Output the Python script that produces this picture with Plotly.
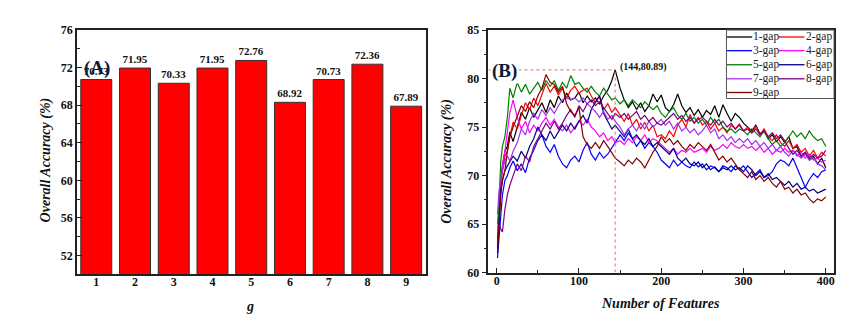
import plotly.graph_objects as go

# ---------------- Panel A data ----------------
g_values = [1, 2, 3, 4, 5, 6, 7, 8, 9]
bar_heights = [70.73, 71.95, 70.33, 71.95, 72.76, 68.30, 70.73, 72.36, 67.89]
bar_labels = ["70.73", "71.95", "70.33", "71.95", "72.76", "68.92", "70.73", "72.36", "67.89"]

# ---------------- Panel B data ----------------
n_features = ([1, 3, 5, 7, 10, 13, 16]
              + [20, 25, 30, 35, 40, 45, 50, 55, 60, 65]
              + [70, 75, 80, 85, 90, 95, 100, 105, 110, 115]
              + [120, 125, 130, 135, 140, 144]
              + [150, 155, 160, 165, 170, 175, 180, 185, 190, 195]
              + [200, 205, 210, 215, 220, 225, 230, 235, 240, 245]
              + [250, 255, 260, 265, 270, 275, 280, 285, 290, 295]
              + [300, 305, 310, 315, 320, 325, 330, 335, 340, 345]
              + [350, 355, 360, 365, 370, 375, 380, 385, 390, 395]
              + [400])

gap1 = [62.5, 66.0, 69.5, 71.0, 72.5, 73.0, 74.5,
        73.5, 75.0, 76.5, 75.8, 77.0, 76.0, 76.8, 77.5, 76.5, 77.8,
        77.0, 78.2, 77.5, 78.5, 77.8, 78.0, 78.6, 77.5, 78.2, 77.6,
        78.0, 77.4, 78.2, 78.8, 79.8, 80.89,
        79.0, 77.8, 77.0, 77.6, 76.8, 77.5, 76.6, 77.2, 78.4, 77.6,
        78.3, 77.0, 76.6, 77.3, 78.4, 77.2, 76.5, 77.0, 76.2, 76.8,
        76.0, 76.7, 76.3, 77.2, 76.0, 77.3, 76.4, 75.6, 76.4, 76.0,
        75.4, 75.0, 74.6, 75.2, 74.3, 74.6, 73.8, 74.2, 73.5, 74.0,
        73.4, 74.0, 72.8, 73.0, 72.0, 72.4, 71.6, 72.0, 71.2, 71.8,
        70.8]
gap2 = [63.0, 66.5, 69.0, 70.5, 72.0, 72.5, 74.0,
        75.5, 74.8, 76.2, 77.5, 76.8, 78.0, 77.2, 78.4, 79.5, 78.6,
        79.2, 78.3, 79.0, 78.0, 78.8, 79.2, 78.5, 78.8, 79.0, 78.2,
        77.5, 78.2, 76.8, 77.4, 76.5, 77.0,
        76.2, 75.6, 76.4, 75.2, 75.8, 74.8, 75.5, 74.6, 75.2, 74.0,
        74.2, 73.8, 74.6, 74.0, 75.2, 75.8, 75.0, 76.3, 75.4, 76.0,
        75.2, 75.6, 74.8, 75.4, 74.6, 75.0, 74.4, 75.2, 74.8, 75.3,
        74.6, 75.0, 74.4, 75.1, 74.2, 74.8, 74.0, 73.6, 74.2, 73.4,
        73.0, 73.6, 72.8, 73.2, 72.4, 72.8, 72.0, 72.6, 71.8, 72.4,
        72.0]
gap3 = [61.5, 64.0, 66.5, 68.0, 69.5, 70.0, 70.8,
        71.5, 70.5, 71.2, 70.3, 71.8, 72.6, 73.6, 74.2, 73.0, 72.4,
        73.2, 72.0, 71.2, 70.8, 71.6, 72.0, 71.4, 72.6, 73.4, 72.2,
        71.6, 72.4, 71.8, 72.2, 72.8, 73.4,
        74.2, 73.6, 74.4, 73.8, 73.0, 73.6, 72.8, 73.4, 73.0, 72.4,
        71.6, 71.2, 70.8, 71.6, 71.0, 71.4, 71.0, 70.8, 71.4, 70.9,
        71.2, 70.6, 71.0, 70.8, 70.4, 71.0, 70.8, 70.4, 71.0, 70.6,
        71.0, 70.4, 69.8, 70.2, 70.6, 69.8, 70.0, 70.4, 71.2, 71.6,
        71.4, 71.0, 71.8, 70.8, 69.8, 68.8, 69.6, 70.2, 69.8, 70.4,
        70.6]
gap4 = [65.0, 67.0, 69.5, 71.0, 72.5, 74.5, 76.5,
        77.8, 76.0, 74.8, 75.6, 74.4, 75.2, 74.6, 75.4, 76.0, 75.2,
        75.8, 75.0, 74.6, 75.2, 74.4, 75.0, 75.6, 75.2, 75.8, 75.0,
        74.6, 74.0, 74.4, 73.6, 74.0, 73.4,
        73.6, 73.2, 73.8, 73.4, 74.0, 73.6, 74.2, 73.4, 73.8, 73.6,
        73.2, 72.8, 72.4, 72.8, 72.2, 72.6, 72.4, 72.8, 72.4, 72.6,
        72.8, 72.4, 73.0, 72.6, 72.8, 73.2, 72.8, 73.4, 73.0, 72.8,
        73.2, 72.8, 73.0, 72.6, 73.0, 72.4, 72.8, 72.2, 72.6, 72.4,
        72.8, 72.4, 72.6, 72.0, 72.4, 71.8, 72.2, 71.6, 71.8, 71.4,
        71.6]
gap5 = [63.5, 68.0, 71.5, 73.0, 74.0, 76.0, 79.0,
        78.0, 79.6, 78.6, 79.4, 78.4, 79.0, 79.6, 78.8, 79.8, 79.2,
        79.8, 78.8, 79.6, 79.0, 80.3, 79.4, 79.6, 79.0, 78.6, 79.2,
        78.6, 78.2, 79.0, 78.4, 77.8, 78.0,
        77.4, 77.8, 77.2, 77.8, 77.4, 77.0, 77.6, 77.2, 76.8, 77.2,
        76.4, 76.0, 76.6, 77.0, 76.2, 75.8, 76.4, 75.6, 76.0, 75.4,
        75.8, 75.2, 76.0, 75.4, 75.8, 75.0, 74.6, 74.8, 74.4, 74.8,
        74.6, 74.2, 74.8, 74.4, 74.0, 74.6, 73.8, 73.2, 73.6, 73.0,
        73.4, 74.0, 74.6, 74.0, 74.4, 73.8, 74.6, 74.0, 73.6, 73.8,
        73.0]
gap6 = [62.0, 65.5, 68.5, 69.5, 70.5, 71.0, 71.5,
        72.0, 71.5, 72.5, 71.8, 73.0, 73.8, 75.0, 74.2, 73.6, 74.6,
        73.8, 74.5, 75.2, 74.6, 75.4, 74.8, 75.6, 76.2, 75.4, 76.8,
        77.6, 78.2, 76.4, 75.6, 74.8, 75.2,
        74.6, 74.0, 74.8, 73.8, 74.2, 73.6, 73.2, 73.8, 73.0, 73.4,
        73.0, 72.6, 72.2, 72.8, 71.8, 71.4, 71.8, 71.2, 71.0, 71.4,
        70.8, 71.2, 70.6, 70.9, 70.4, 70.8, 70.6, 71.0, 70.6, 70.8,
        70.4, 71.0, 70.6, 70.0, 70.4, 69.8, 70.2, 69.6, 69.8, 69.4,
        69.0, 69.4, 68.8, 69.2, 68.6, 68.8, 68.4, 68.6, 68.2, 68.4,
        68.6]
gap7 = [66.0, 68.5, 69.5, 70.5, 71.5, 72.0, 71.5,
        72.5, 73.4, 74.8, 74.2, 75.6, 76.4, 75.8, 76.8, 76.2, 77.0,
        76.4, 77.2, 77.8, 78.0, 77.8, 78.0, 77.6, 78.0, 77.4, 77.0,
        76.6, 76.0, 76.6, 75.8, 76.2, 75.6,
        75.0, 74.2, 74.8, 75.2, 74.6, 75.4, 74.8, 75.6, 75.0, 75.4,
        75.8, 75.2, 75.6, 74.8, 75.4, 74.6, 75.0, 74.4, 74.8, 74.2,
        74.6, 75.2, 74.4, 74.8, 73.8, 74.2, 73.6, 74.0, 73.4, 73.8,
        73.4, 73.8, 73.2, 73.6, 73.0, 73.4, 72.8, 73.2, 72.6, 73.0,
        72.4, 72.0, 72.6, 72.2, 71.8, 72.2, 71.6, 71.8, 71.2, 71.0,
        70.6]
gap8 = [63.0, 65.0, 64.5, 64.2, 66.5, 68.0, 69.0,
        70.0, 71.2, 70.5, 72.0, 71.4, 73.0, 73.8, 74.6, 75.4, 74.8,
        75.6, 74.8, 75.4, 76.2, 76.8, 76.0, 77.2, 76.6, 77.4, 77.8,
        77.2, 77.6, 77.0, 76.4, 75.8, 76.4,
        76.0, 76.4, 75.8, 76.2, 76.6, 75.8, 76.2, 75.6, 76.0, 75.4,
        75.2, 75.6, 76.0, 76.4, 75.8, 76.2, 75.6, 76.0, 75.4, 75.8,
        76.0, 75.6, 75.2, 75.8, 75.2, 75.6, 75.0, 75.4, 74.8, 75.2,
        74.6, 74.8, 74.4, 74.8, 74.2, 74.6, 74.0, 74.4, 73.8, 74.2,
        73.6, 72.8, 72.2, 72.6, 72.0, 72.4, 71.8, 72.2, 71.8, 72.0,
        72.6]
gap9 = [62.0, 65.0, 68.0, 69.5, 70.5, 72.5, 74.0,
        75.0, 76.2, 77.2, 76.6, 77.6, 77.0, 78.2, 79.0, 80.4, 79.6,
        79.4, 78.6, 79.2, 77.4, 76.6, 76.2, 77.0, 74.0, 73.2, 72.8,
        73.4, 72.8, 73.6, 73.0, 72.4, 71.8,
        71.4, 71.0, 71.6, 71.2, 71.8, 71.4, 70.8, 71.6, 72.4, 73.0,
        74.0, 73.4, 73.8, 73.2, 73.6, 73.0, 72.6, 73.2, 72.8, 73.4,
        73.0, 72.6, 73.2, 72.4, 71.6, 72.0, 71.4, 71.8, 71.2, 70.6,
        70.2, 69.8, 70.4, 69.6, 70.0, 69.4, 69.8, 69.2, 68.8, 69.4,
        68.6, 68.8, 68.2, 68.6, 68.0, 68.2, 67.6, 67.2, 67.6, 67.4,
        67.8]

series_names = ["1-gap", "2-gap", "3-gap", "4-gap", "5-gap", "6-gap", "7-gap", "8-gap", "9-gap"]
series_values = [gap1, gap2, gap3, gap4, gap5, gap6, gap7, gap8, gap9]
series_colors = ["#000000", "#ff0000", "#0000ff", "#ff00ff", "#008000",
                 "#000080", "#a030f0", "#800080", "#800000"]

peak_x = 144
peak_y = 80.89

SERIF = "Liberation Serif"
AXCOL = "#222222"
W, H = 849, 322

fig = go.Figure()

fig.add_trace(go.Bar(
    x=g_values, y=bar_heights, text=bar_labels, textposition="outside",
    textfont=dict(family=SERIF, size=11, color="#111111", weight="bold"),
    marker=dict(color="#ff0000", line=dict(color="#333333", width=1)),
    width=0.8, cliponaxis=False, showlegend=False,
    xaxis="x", yaxis="y"))

for name, vals, col in zip(series_names, series_values, series_colors):
    fig.add_trace(go.Scatter(
        x=n_features, y=vals, mode="lines", name=name,
        line=dict(color=col, width=1.2), showlegend=False,
        xaxis="x2", yaxis="y2"))

tickfont = dict(family=SERIF, size=12, color="#111111", weight="bold")

fig.update_layout(
    width=W, height=H,
    margin=dict(l=0, r=0, t=0, b=0),
    paper_bgcolor="white", plot_bgcolor="white",
    showlegend=False,
    xaxis=dict(domain=[69 / W, 418 / W], range=[0.5, 9.5], tickvals=g_values,
               ticks="", ticklabelstandoff=-4, showgrid=False, zeroline=False, showline=True,
               linecolor=AXCOL, linewidth=1.5, mirror=True, tickfont=tickfont),
    yaxis=dict(domain=[1 - 271 / H, 1 - 15.7 / H], range=[50, 76], tickvals=[52, 56, 60, 64, 68, 72, 76],
               ticks="inside", ticklen=5, tickcolor=AXCOL,
               minor=dict(tickvals=[50, 54, 58, 62, 66, 70, 74], ticks="inside", ticklen=3, tickcolor=AXCOL),
               showgrid=False, zeroline=False, showline=True,
               linecolor=AXCOL, linewidth=1.5, mirror=True, tickfont=tickfont),
    xaxis2=dict(domain=[481 / W, 827 / W], range=[-10, 410], tickvals=[0, 100, 200, 300, 400],
                ticks="inside", ticklen=5, tickcolor=AXCOL, ticklabelstandoff=-4,
                minor=dict(tickvals=[50, 150, 250, 350], ticks="inside", ticklen=3, tickcolor=AXCOL),
                showgrid=False, zeroline=False, showline=True,
                linecolor=AXCOL, linewidth=1.5, mirror=True, tickfont=tickfont, anchor="y2"),
    yaxis2=dict(domain=[1 - 269.3 / H, 1 - 15.7 / H], range=[60, 85], tickvals=[60, 65, 70, 75, 80, 85],
                ticks="outside", ticklen=5, tickcolor=AXCOL,
                minor=dict(tickvals=[62.5, 67.5, 72.5, 77.5, 82.5], ticks="outside", ticklen=3, tickcolor=AXCOL),
                showgrid=False, zeroline=False, showline=True,
                linecolor=AXCOL, linewidth=1.5, mirror=True, tickfont=tickfont, anchor="x2"),
)

# reference lines at the peak
shapes = [
    dict(type="line", xref="x2", yref="y2", x0=-10, x1=peak_x, y0=peak_y, y1=peak_y,
         line=dict(color="#e06a6a", width=1, dash="dot")),
    dict(type="line", xref="x2", yref="y2", x0=peak_x, x1=peak_x, y0=60, y1=peak_y,
         line=dict(color="#e06a6a", width=1, dash="dot")),
]

ann = []
# legend box drawn as a two-column key
leg_left, leg_right, leg_top, leg_bottom = 719.3, 827, 15.7, 87.3
shapes.append(dict(type="rect", xref="paper", yref="paper", layer="above",
                   x0=leg_left / W, x1=leg_right / W, y0=1 - leg_bottom / H, y1=1 - leg_top / H,
                   fillcolor="white", line=dict(color="#555555", width=1)))
col_line_x = [(719.8, 745.0), (771.5, 797.5)]
row_y = [23.0, 37.3, 52.0, 66.7, 81.0]
for i, (name, col) in enumerate(zip(series_names, series_colors)):
    c, r = i % 2, i // 2
    x0, x1 = col_line_x[c]
    yy = 1 - row_y[r] / H
    shapes.append(dict(type="line", xref="paper", yref="paper", layer="above",
                       x0=x0 / W, x1=x1 / W, y0=yy, y1=yy, line=dict(color=col, width=1.3)))
    ann.append(dict(text=name, x=x1 / W, y=yy, xref="paper", yref="paper", xanchor="left",
                    yanchor="middle", showarrow=False, borderpad=0,
                    font=dict(family=SERIF, size=11.5, color="#222222")))

ann.append(dict(text="(%d,%.2f)" % (peak_x, peak_y), x=179, y=81.2, xref="x2", yref="y2",
                xanchor="center", yanchor="middle", showarrow=False,
                font=dict(family=SERIF, size=10, color="#111111", weight="bold")))
ann.append(dict(text="(A)", x=1.02, y=72.0, xref="x", yref="y", showarrow=False,
                xanchor="center", yanchor="middle",
                font=dict(family=SERIF, size=19, color="#0b1a3a", weight="bold")))
ann.append(dict(text="(B)", x=9, y=80.8, xref="x2", yref="y2", showarrow=False, bgcolor="white",
                xanchor="center", yanchor="middle",
                font=dict(family=SERIF, size=19, color="#0b1a3a", weight="bold")))
title_font = dict(family=SERIF, size=14, color="#111111", weight="bold", style="italic")
ann.append(dict(text="Overall Accuracy (%)", x=38 / W, y=1 - 151 / H, xref="paper", yref="paper",
                xanchor="center", yanchor="middle", textangle=-90, showarrow=False, font=title_font))
ann.append(dict(text="g", x=242 / W, y=1 - 305 / H, xref="paper", yref="paper",
                xanchor="center", yanchor="middle", showarrow=False, font=title_font))
ann.append(dict(text="Overall Accuracy (%)", x=440 / W, y=1 - 153 / H, xref="paper", yref="paper",
                xanchor="center", yanchor="middle", textangle=-90, showarrow=False, font=title_font))
ann.append(dict(text="Number of Features", x=653 / W, y=1 - 302 / H, xref="paper", yref="paper",
                xanchor="center", yanchor="middle", showarrow=False, font=title_font))
fig.update_layout(annotations=ann, shapes=shapes)

fig.write_html("out.html")
